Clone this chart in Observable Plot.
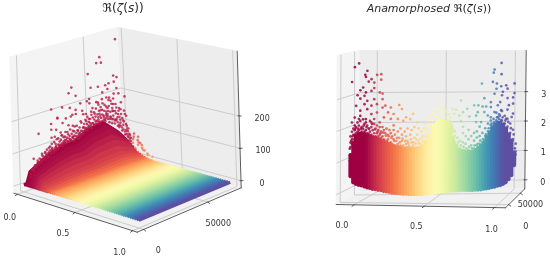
<!DOCTYPE html>
<html><head><meta charset="utf-8">
<script src="https://cdn.jsdelivr.net/npm/d3@7"></script>
<script src="https://cdn.jsdelivr.net/npm/@observablehq/plot@0.6"></script>
<style>
html,body{margin:0;padding:0;background:#fff}
#wrap{position:relative;width:550px;height:260px;overflow:hidden;font-family:"DejaVu Sans",sans-serif;color:#2a2a2a}
.title{position:absolute;z-index:2;top:1px;font-size:11px;line-height:15px;white-space:nowrap;transform:translateX(-50%);filter:blur(.3px)}
svg{filter:blur(.45px);display:block}
i{font-style:italic}
</style></head><body>
<div id="wrap">
<div class="title" style="left:123px;font-size:12px"><span>ℜ(<i>ζ</i>(<i>s</i>))</span></div>
<div class="title" style="left:429px"><i>Anamorphosed</i> <span>ℜ(<i>ζ</i>(<i>s</i>))</span></div>
<div id="chart"></div>
</div>
<script>
// Tick values
const sTicks = [0, 0.5, 1];
const tTicks = [0, 50000];
const zTicksLeft = [0, 100, 200];
const zTicksRight = [0, 1, 2, 3];

// Left panel: colour stripes along the floor, one per s value, with the tone seen at each
const stripeS = [0,.01,.02,.03,.04,.05,.06,.07,.08,.09,.1,.11,.12,.13,.14,.15,.16,.17,.18,.19,.2,.22,.24,.26,.28,.3,.32,.34,.36,.38,.4,.42,.44,.46,.48,.5,.52,.54,.56,.58,.6,.62,.64,.66,.68,.7,.72,.74,.76,.78,.8,.82,.84,.86,.88,.9,.92,.94,.96,.98,1];
const stripeTone = [0,0,0,0,.01,.01,.02,.02,.03,.04,.05,.06,.07,.08,.09,.1,.11,.12,.13,.14,.16,.19,.22,.26,.28,.3,.32,.34,.36,.38,.4,.42,.44,.46,.48,.5,.52,.54,.56,.58,.6,.62,.64,.66,.68,.7,.72,.74,.76,.78,.8,.82,.84,.86,.88,.9,.92,.94,.96,.98,1];

// Left panel: upper envelope of the dense cloud, by t, for low s values: [s, tone, heights]
const envelopeT = [0,2500,11000,18000,28000,36000,45500,58000,67500,72000];
const layers = [
  [.02,0,[9,41,61,76,88,89,112,121,80,50]],
  [.04,.01,[9,40,60,75,86,88,110,118,78,49]],
  [.06,.02,[8,38,56,70,82,83,104,112,74,46]],
  [.08,.03,[7,34,50,63,73,74,93,100,66,41]],
  [.10,.05,[6,29,43,53,62,62,78,85,56,35]],
  [.12,.07,[5,24,35,43,50,51,64,70,46,29]],
  [.14,.09,[3,18,26,33,38,39,49,52,34,22]],
  [.16,.11,[3,12,18,23,26,27,34,36,24,15]],
  [.18,.13,[2,9,13,16,19,19,25,27,18,12]],
  [.20,.16,[2,6,9,12,14,14,18,20,13,9]],
  [.22,.19,[1,4,6,8,10,10,12,14,9,6]],
  [.24,.22,[1,3,4,5,6,6,8,9,6,4]],
  [.26,.26,[0,2,3,3,4,4,5,6,4,3]],
  [.28,.28,[0,1,2,2,2,2,3,3,2,2]]
];

// Left panel: outlying samples [t, value]
const leftCloud = [[66900,378],[54700,335],[52200,319],[55700,316],[45600,292],[33100,265],[30900,250],[36000,235],[47300,246],[52700,242],[58100,240],[64300,263],[66700,255],[64500,243],[60600,243],[59600,226],[55700,220],[60600,197],[66200,220],[67500,201],[71900,185],[63300,172],[67500,153],[52200,192],[45900,212],[44100,207],[45900,198],[39200,207],[25700,212],[17600,216],[31400,203],[35600,191],[40400,182],[33100,179],[22000,182],[28200,174],[35600,178],[55200,199],[58100,171],[62600,151],[68700,132],[72400,121],[49000,165],[43000,168],[52700,165],[58800,146],
[7800,153],[25700,163],[22000,184],[17200,171],[17200,153],[20800,148],[31900,175],[33100,144],[36700,123],[24600,125],[17200,128],[19600,128],[17200,109],[9800,88],[3600,81],[6600,66],[12300,90],[17200,88],[25700,97],
[24000,135],[27000,118],[30000,150],[33000,110],[36000,140],[39000,150],[41000,128],[43000,145],[46000,135],[48000,180],[50000,150],[52000,130],[54000,175],[56000,140],[58000,155],[60000,190],[61000,135],[63000,150],[64000,205],[65000,170],[66000,125],[67000,145],[69000,170],[70000,110],[71000,140],[72000,95],[44000,120],[47000,160],[49000,125],[51000,195],[53000,155],[55000,165],[57000,125],[59000,165],[62000,175],[65000,140],[68000,115],[20000,105],[22000,120],[15000,100],[12000,75],[9000,68],[5000,55],[26000,105],[29000,130],[31000,100],[34000,125],[38000,115],[41000,170],[45000,150],[73000,70],[74000,60],[75000,45]];
const leftFringe = [[1000,30],[2000,48],[3000,52],[3500,44],[4500,60],[5500,55],[6500,72],[7500,58],[8000,76],[8500,66],[9500,62],[10000,82],[10500,72],[11500,70],[12000,88],[12500,65],[13000,78],[13500,96],[14000,72],[14500,84],[15000,70],[15500,90],[16000,102],[16500,78],[17000,86],[17500,95],[18500,80],[19000,112],[19500,92],[20000,85],[20500,98],[21000,118],[21500,88],[22000,100],[22500,95],[23000,108],[23500,92],[24000,112],[24500,98],[25000,125],[25500,90],[26000,118],[26500,100],[27000,108],[27500,132],[28000,95],[28500,112],[29000,100],[29500,122],[30000,98],[30500,115],[31000,135],[31500,100],[32000,120],[32500,108],[33000,128],[33500,96],[34000,112],[34500,140],[35000,100],[35500,118],[36000,106],[36500,125],[37000,98],[37500,112],[38000,132],[38500,105],[39000,120],[39500,145],[40000,108],[40500,128],[41000,115],[41500,138],[42000,118],[42500,150],[43000,122],[43500,135],[44000,158],[44500,125],[45000,140],[45500,120],[46000,148],[46500,128],[47000,170],[47500,132],[48000,150],[48500,125],[49000,142],[49500,160],[50000,128],[50500,175],[51000,135],[51500,155],[52000,145],[52500,185],[53000,130],[53500,148],[54000,165],[54500,128],[55000,150],[55500,185],[56000,132],[56500,160],[57000,178],[57500,135],[58000,148],[58500,200],[59000,130],[59500,155],[60000,170],[60500,128],[61000,150],[61500,185],[62000,125],[62500,160],[63000,135],[63500,190],[64000,118],[64500,148],[65000,120],[65500,158],[66000,110],[66500,135],[67000,100],[67500,125],[68000,95],[68500,148],[69000,88],[69500,118],[70000,80],[70500,105],[71000,72],[71500,128],[72000,62],[72500,88],[73000,52],[73500,78],[74000,40],[74500,55]];
const leftFringeLow = [[1500,38],[2500,48],[4000,52],[5000,58],[6000,60],[7000,65],[8000,62],[9000,72],[10000,68],[11000,78],[12000,72],[13000,82],[14000,78],[15000,85],[16000,82],[17000,92],[18000,88],[19000,85],[20000,95],[21000,90],[22000,88],[23000,98],[24000,95],[25000,100],[26000,96],[27000,100],[28000,105],[29000,100],[30000,108],[31000,104],[32000,98],[33000,106],[34000,100],[35000,108],[36000,100],[37000,108],[38000,102],[39000,110],[40000,118],[41000,108],[42000,125],[43000,115],[44000,112],[45000,128],[46000,122],[47000,118],[48000,132],[49000,122],[50000,135],[51000,125],[52000,138],[53000,124],[54000,140],[55000,128],[56000,145],[57000,130],[58000,142],[59000,138],[60000,118],[61000,132],[62000,112],[63000,125],[64000,108],[65000,118],[66000,98],[67000,92],[68000,105],[69000,78],[70000,95],[71000,62],[72000,75],[73000,58],[74000,48],[75000,35]];
// Left panel: paler samples at the far end of the band [s, t, value]
const leftFar = [[.12,72000,70],[.14,70000,65],[.15,72000,52],[.16,68000,62],[.17,71000,48],[.18,72500,38],[.19,69000,45],[.2,71000,33],[.21,72000,24],[.22,70000,30],[.24,71500,18],[.26,70500,16],[.28,72000,10],[.16,73000,42],[.13,74000,58],[.18,66000,55],[.14,66000,78],[.11,68000,92],[.2,66000,40]];

// Right panel: dense body of the cloud by s
const bodyS = [-.11,-.09,-.07,-.05,-.03,-.01,.01,.03,.05,.07,.09,.11,.13,.15,.17,.19,.21,.23,.25,.27,.29,.31,.33,.35,.37,.39,.41,.43,.45,.47,.49,.51,.53,.55,.57,.59,.61,.63,.65,.67,.69,.71,.73,.75,.77,.79,.81,.83,.85,.87,.89,.91,.93,.95,.97,.99,1.01,1.03,1.05,1.07];
const bodyLow = [.40,.20,.15,.12,.10,.07,.04,.02,-.01,-.02,-.04,-.05,-.08,-.09,-.11,-.13,-.14,-.15,-.16,-.17,-.17,-.18,-.18,-.18,-.18,-.18,-.18,-.17,-.16,-.15,-.14,-.13,-.11,-.10,-.09,-.09,-.08,-.07,-.06,-.06,-.05,-.05,-.05,-.05,-.05,-.04,-.04,-.03,-.01,0,.02,.04,.06,.09,.11,.15,.20,.30,.43,.75];
const bodyHigh = [1.1,1.5,1.72,1.8,1.8,1.78,1.74,1.72,1.68,1.66,1.62,1.58,1.54,1.5,1.46,1.42,1.38,1.36,1.34,1.32,1.32,1.32,1.32,1.32,1.32,1.34,1.38,1.45,1.62,1.9,2.06,2.14,2.20,2.20,2.17,2.14,1.95,1.6,1.38,1.28,1.24,1.22,1.2,1.2,1.22,1.26,1.33,1.4,1.5,1.65,1.8,1.98,2.06,2.14,2.14,2.07,1.95,1.76,1.56,1.17];

// Right panel: outlying samples [s, value]
const rightCloud = [[-.05,4.06],[-.08,3.94],[-.10,3.46],[.01,3.82],[-.005,3.69],[0,3.62],[.04,3.55],[.08,3.69],[.11,3.71],[.02,3.47],[.06,3.44],[.11,3.53],[-.02,3.28],[-.04,3.19],[.06,3.26],[0,3.12],[.04,3.17],[-.06,3.03],[-.01,3.01],[.1,3.12],[.12,3.08],[-.04,2.92],[.01,2.85],[.06,2.9],[.12,2.9],[-.07,2.69],[-.01,2.74],[.04,2.69],[.08,2.74],[.14,2.69],[-.04,2.53],[.01,2.58],[-.08,2.31],[-.1,2.15],[-.04,2.36],[.04,2.42],[.08,2.47],[.12,2.63],[.24,2.71],[.18,2.63],[.26,2.58],[.16,2.47],[.2,2.42],[.29,2.31],[.13,2.31],[.18,2.26],[.23,2.26],[.34,2.42],[.06,2.26],[0,2.26],[-.05,2.26],[.1,2.15],[.04,2.15],[-.01,2.1],
[.2,2.05],[.27,2.2],[.32,2.25],[.37,2.15],[.976,4.05],[.926,3.84],[.92,3.74],[.976,3.69],[.835,3.39],[.914,3.44],[.943,3.39],[.974,3.3],[1.01,3.33],[1.07,3.39],[.94,3.22],[.926,3.06],[.986,3.12],[1.02,3.22],[1.07,3.08],[.98,3.01],[.853,2.92],[.685,2.85],[.9,2.79],[.967,2.79],[1.02,2.92],[1.06,2.94],[.78,2.69],[.81,2.69],[.84,2.65],[.866,2.65],[.9,2.63],[.95,2.69],[1.03,2.69],[1.06,2.74],[.625,2.58],[.65,2.55],[.73,2.58],[.70,2.47],[.806,2.47],[.853,2.47],[.878,2.36],[.926,2.47],[.974,2.53],[1.02,2.55],[.745,2.33],[.794,2.36],[.673,2.36],[.637,2.42],[.685,2.18],[.794,2.15],[.83,2.15],[.9,2.2],[.95,2.31],[1.05,2.31],[1.01,2.26],[1.06,2.42],
[.7,2.0],[.72,1.7],[.74,1.9],[.78,1.8],[.82,2.0],[.64,1.85],[.62,2.05]];
// Right panel: samples along the top of the body [s, values at that s]
const rightFringe = [[-.115,[.9,1.1,1.3]],[-.11,[1.5,1.7]],[-.1,[1.85,1.6]],[-.09,[1.75,1.95]],[-.08,[1.9,2.05]],[-.07,[1.8,2.0]],[-.06,[1.85,2.15]],[-.05,[1.9,2.05]],[-.04,[1.8,2.2]],[-.03,[2.0,1.85]],[-.02,[1.95,2.25]],[-.01,[1.85]],[0,[1.9,2.15]],[.01,[1.8,2.05]],[.02,[1.95,1.78]],[.03,[2.2,1.85]],[.04,[2.0,1.75]],[.05,[1.9,1.7]],[.06,[2.1,1.8]],[.07,[1.95,1.7]],[.08,[2.05,1.8]],[.09,[1.7,1.9]],[.1,[2.0,1.75]],[.11,[1.65,1.85]],[.12,[2.0,1.7]],[.13,[1.6,1.9]],[.14,[1.8]],[.15,[1.55,1.95]],[.16,[1.75,1.6]],[.17,[1.9]],[.18,[1.5,1.8]],
[.19,[1.45,1.7]],[.2,[1.6,1.9]],[.21,[1.4,1.75]],[.22,[1.55]],[.23,[1.85,1.45]],[.24,[1.65]],[.25,[1.4,1.95]],[.26,[1.55,1.75]],[.27,[1.4]],[.28,[1.85]],[.29,[1.45,1.7]],[.3,[1.55,1.95]],[.31,[1.4]],[.32,[1.75]],[.33,[1.5,1.9]],[.34,[1.4]],[.35,[1.65,2.0]],[.36,[1.45]],[.37,[1.75]],[.38,[1.5,1.95]],[.39,[1.6]],[.4,[1.85,1.45]],[.41,[1.55,1.7]],[.42,[1.95,1.5]],[.43,[1.7,2.1]],[.44,[1.9]],[.45,[1.7,2.2]],[.46,[2.0,2.35]],
[.48,[2.2,2.45]],[.5,[2.35,2.55]],[.52,[2.3,2.6]],[.54,[2.4,2.7]],[.56,[2.35,2.55]],[.58,[2.3,2.5]],[.6,[2.2,2.4]],[.61,[2.1,2.3]],[.62,[1.8,2.0]],[.63,[1.9,1.65]],
[.64,[1.5,1.7]],[.66,[1.4,1.65]],[.68,[1.3,1.55]],[.7,[1.25,1.5,1.8]],[.72,[1.2,1.45]],[.74,[1.25,1.6]],[.76,[1.2,1.4,1.7]],[.78,[1.3,1.55]],[.8,[1.4,1.65,1.85]],[.82,[1.45,1.7]],[.84,[1.5,1.8]],[.86,[1.7,1.95]],[.88,[1.85,2.1]],[.9,[2.05,2.3]],[.92,[2.1,2.25]],[.94,[2.2,2.45]],[.96,[2.25,2.4]],[.98,[2.2,2.5]],[1.0,[2.1,2.35]],[1.02,[2.0,2.25]],[1.04,[1.8,2.1]],[1.06,[1.6,1.9]],[1.08,[1.2,1.45]]];
const rightFringeLow = [[-.11,1.35],[-.105,1.55],[-.1,1.45],[-.095,1.7],[-.085,1.6],[-.08,1.75],[-.075,1.95],[-.065,1.7],[-.055,1.95],[-.045,1.75],[-.035,1.95],[-.025,1.78],[-.015,2.05],[-.005,1.8],[.005,2.0],[.015,1.72],[.025,1.95],[.035,1.7],[.045,2.1],[.055,1.68],[.065,1.92],[.075,1.65],[.085,1.85],[.095,1.62],[.105,1.8],[.115,1.58],[.125,1.82],[.135,1.55],[.145,1.72],[.155,1.5],[.165,1.7],[.175,1.48],[.185,1.65],[.195,1.38],[.205,1.55],[.215,1.32],[.225,1.65],[.235,1.35],[.245,1.5],[.255,1.3],[.265,1.62],[.275,1.32],[.285,1.55],[.295,1.33],[.305,1.48],[.315,1.3],[.325,1.6],[.335,1.32],[.345,1.5],[.355,1.3],[.365,1.58],[.375,1.33],[.385,1.45],[.395,1.35],[.405,1.65],[.415,1.4],[.425,1.55],[.435,1.5],[.445,1.75],[.455,1.6],[.465,2.05],
[.63,1.6],[.645,1.45],[.655,1.3],[.665,1.5],[.675,1.2],[.685,1.4],[.695,1.15],[.705,1.35],[.715,1.12],[.725,1.3],[.735,1.1],[.745,1.35],[.755,1.12],[.765,1.3],[.775,1.18],[.785,1.4],[.795,1.25],[.805,1.45],[.815,1.33],[.825,1.55],[.835,1.4],[.845,1.6],[.855,1.55],[.865,1.75],[.875,1.7],[.885,1.95],[.895,1.85],[.905,2.1],[.915,2.0],[.925,2.15],[.935,2.1],[.945,2.3],[.955,2.15],[.965,2.35],[.975,2.2],[.985,2.3],[.995,2.1],[1.005,2.2],[1.015,1.95],[1.025,2.15],[1.035,1.75],[1.045,1.95],[1.055,1.55],[1.065,1.75],[1.075,1.3],[1.08,1.1]];

// Each panel's box on the page, and its axis ranges
const panels = {
  left: {s:[-.03,1.04], t:[-5000,76000], z:[-22,400],
    A:[13.3,192.7], B:[136.7,231.7], C:[240.7,187.3], D:[124,155],
    A2:[9.3,56.7], B2:[132,84], C2:[236.7,50.7], D2:[117.3,26.7],
    zTicks: zTicksLeft},
  right: {s:[-.1265,1.078], t:[-14000,69000], z:[-.306,4.4],
    A:[335.7,204], B:[505,207.3], C:[524.3,188.3], D:[359.3,191.7],
    A2:[336.7,55], B2:[505,53], C2:[525.7,50], D2:[359.3,50],
    zTicks: zTicksRight}
};
const frac = ([a,b],v)=>(v-a)/(b-a);
const mix = (p,q,k)=>[p[0]+(q[0]-p[0])*k, p[1]+(q[1]-p[1])*k];
function project(name,s,t,z){
  const P = panels[name];
  const u = frac(P.s,s), v = frac(P.t,t), w = frac(P.z,z);
  const floor = mix(mix(P.A,P.B,u), mix(P.D,P.C,u), v);
  const top = mix(mix(P.A2,P.B2,u), mix(P.D2,P.C2,u), v);
  return mix(floor,top,w);
}
const X = d=>project(d.p,d.s,d.t,d.z)[0]+(d.dx||0);
const Y = d=>project(d.p,d.s,d.t,d.z)[1]+(d.dy||0);
const X2 = d=>project(d.p,d.s,d.t,d.z2)[0];
const Y2 = d=>project(d.p,d.s,d.t,d.z2)[1];

function seg(p,a,b,group){ return [{p,...a,g:group},{p,...b,g:group}]; }

const walls=[], floors=[], grid=[], axes=[], tickMarks=[], labels=[];
for (const p of ["left","right"]) {
  const P=panels[p], [s0,s1]=P.s, [t0,t1]=P.t, [z0,z1]=P.z;
  walls.push({p,w:"a",s:s0,t:t0,z:z0,z2:z1},{p,w:"a",s:s0,t:t1,z:z0,z2:z1});
  walls.push({p,w:"b",s:s0,t:t1,z:z0,z2:z1},{p,w:"b",s:s1,t:t1,z:z0,z2:z1});
  floors.push(
    {p,w:"f",s:s0,t:t0,z:z0,sB:s0,tB:t1},
    {p,w:"f",s:s1,t:t0,z:z0,sB:s1,tB:t1});
  sTicks.forEach((s,i)=>{
    grid.push(...seg(p,{s,t:t1,z:z0},{s,t:t1,z:z1},p+"sv"+i));
    grid.push(...seg(p,{s,t:t0,z:z0},{s,t:t1,z:z0},p+"sf"+i));
  });
  tTicks.forEach((t,i)=>{
    grid.push(...seg(p,{s:s0,t,z:z0},{s:s0,t,z:z1},p+"tv"+i));
    grid.push(...seg(p,{s:s0,t,z:z0},{s:s1,t,z:z0},p+"tf"+i));
  });
  P.zTicks.forEach((z,i)=>{
    grid.push(...seg(p,{s:s0,t:t0,z},{s:s0,t:t1,z},p+"za"+i));
    grid.push(...seg(p,{s:s0,t:t1,z},{s:s1,t:t1,z},p+"zb"+i));
    tickMarks.push(...seg(p,{s:s1,t:t1,z,dx:-1},{s:s1,t:t1,z,dx:2},p+"zt"+i));
  });
  axes.push(...seg(p,{s:s0,t:t0,z:z0},{s:s1,t:t0,z:z0},p+"as"));
  axes.push(...seg(p,{s:s1,t:t0,z:z0},{s:s1,t:t1,z:z0},p+"at"));
  axes.push(...seg(p,{s:s1,t:t1,z:z0},{s:s1,t:t1,z:z1},p+"az"));
  sTicks.forEach((s,i)=>{
    tickMarks.push(...seg(p,{s,t:t0,z:z0},{s,t:t0,z:z0,dx:-2,dy:1.5},p+"st"+i));
  });
  tTicks.forEach((t,i)=>{
    tickMarks.push(...seg(p,{s:s1,t,z:z0},{s:s1,t,z:z0,dx:2,dy:1.5},p+"tt"+i));
  });
}
const sLabelNudge = {left:[[-7.5,23],[-12,21],[-13,22]], right:[[-12,21],[-8,20],[-3,22]]};
const tLabelNudge = {left:[[14.7,21],[10.5,21.5]], right:[[17,22],[10,11]]};
const sLabelText = ["0.0","0.5","1.0"];
for (const p of ["left","right"]) {
  const P=panels[p];
  sTicks.forEach((s,i)=>labels.push({p,s,t:P.t[0],z:P.z[0],label:sLabelText[i],dx:sLabelNudge[p][i][0],dy:sLabelNudge[p][i][1]}));
  tTicks.forEach((t,i)=>labels.push({p,s:P.s[1],t,z:P.z[0],label:String(t),dx:tLabelNudge[p][i][0],dy:tLabelNudge[p][i][1]}));
  P.zTicks.forEach(z=>labels.push({p,s:P.s[1],t:P.t[1],z,label:String(z),dx:p==="left"?(z===0?21:23):18,dy:2.5}));
}

// Data rows
const stripes = stripeS.flatMap((s,i)=>[{p:"left",s,c:stripeTone[i],t:0,z:0},{p:"left",s,c:stripeTone[i],t:71000,z:0}]);
const layer = (s,c,env)=>envelopeT.map((t,i)=>({p:"left",s,c,t,z:0,z2:env[i]}));
const leftDots = [...leftCloud,...leftFringe,...leftFringeLow].map(([t,z])=>({p:"left",s:.05,c:.04,t,z}))
  .concat(leftFar.map(([s,t,z])=>({p:"left",s,c:s,t,z})));
const body = bodyS.map((s,i)=>({p:"right",s,t:27500,z:bodyLow[i],z2:bodyHigh[i]}));
const bodyEnds = body.flatMap(d=>[{...d},{...d,z:d.z2}]);
const rightDots = [...rightCloud,...rightFringeLow].map(([s,z])=>({p:"right",s,t:27500,z}))
  .concat(rightFringe.flatMap(([s,zs])=>zs.map(z=>({p:"right",s,t:27500,z}))));

const wallFill = {a:"#f4f4f4", b:"#ededed"};
const chart = Plot.plot({
  width:550, height:260, margin:0,
  x:{domain:[0,550],range:[0,550],axis:null},
  y:{domain:[0,260],range:[0,260],axis:null},
  color:{type:"linear",scheme:"spectral",domain:[0,1],clamp:true},
  style:{background:"#fff",fontFamily:"DejaVu Sans"},
  marks:[
    // floor
    Plot.area(floors,{x1:X,y1:Y,x2:d=>project(d.p,d.sB,d.tB,d.z)[0],y2:d=>project(d.p,d.sB,d.tB,d.z)[1],z:d=>d.p,fill:"#f1f1f1"}),
    // walls
    Plot.area(walls,{x1:X,y1:Y,x2:X2,y2:Y2,z:d=>d.p+d.w,fill:d=>wallFill[d.w]}),
    Plot.line(grid,{x:X,y:Y,z:"g",stroke:"#cccccc",strokeWidth:1,strokeLinecap:"butt"}),
    Plot.line(axes,{x:X,y:Y,z:"g",stroke:"#333",strokeWidth:.8}),
    Plot.line(tickMarks,{x:X,y:Y,z:"g",stroke:"#333",strokeWidth:.8}),
    // left panel data
    Plot.line(stripes,{x:X,y:Y,z:"s",stroke:"c",strokeWidth:3.2,strokeLinecap:"butt"}),
    ...layers.map(([s,c,env])=>Plot.area(layer(s,c,env),{x1:X,y1:Y,x2:X2,y2:Y2,fill:"c",curve:"linear"})),
    Plot.dot(leftDots,{x:X,y:Y,r:1.3,fill:"c",fillOpacity:.8}),
    // right panel data
    Plot.line(bodyEnds,{x:X,y:Y,z:"s",stroke:"s",strokeWidth:4,strokeLinecap:"butt"}),
    Plot.dot(bodyEnds,{x:X,y:Y,r:1.8,fill:"s"}),
    Plot.dot(rightDots,{x:X,y:Y,r:1.35,fill:"s",fillOpacity:.85}),
    // tick labels
    Plot.text(labels,{x:X,y:Y,text:"label",fontSize:8,fill:"#333",textAnchor:"middle"})
  ]
});
document.getElementById("chart").appendChild(chart);
</script>
</body></html>
